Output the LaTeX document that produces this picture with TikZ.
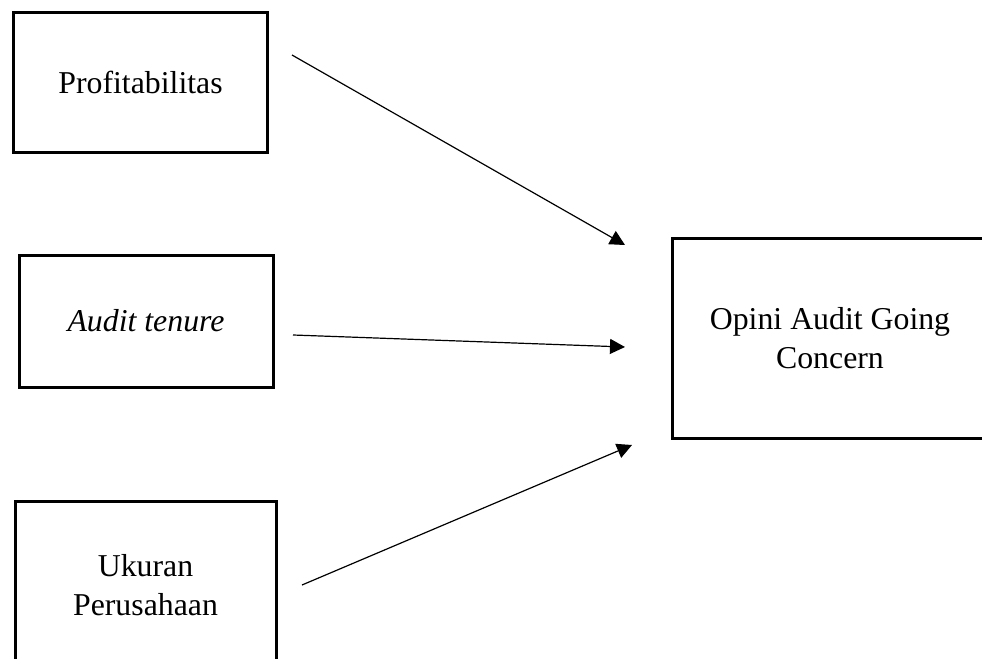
\documentclass[tikz,border=0pt]{standalone}
\usepackage{fontspec}
\setmainfont{Liberation Serif}
\usetikzlibrary{arrows.meta}
\begin{document}
\begin{tikzpicture}[x=0.5pt,y=-0.5pt,
var/.style={%
draw,
line width=1.5pt,
align=center,
inner sep=0pt,
font=\fontsize{15.9}{19.5}\selectfont,
},
link/.style={%
line width=0.6pt,
-{Triangle[length=7.5pt,width=7.5pt]},
}
]
\useasboundingbox(0,0)rectangle(982,659);

%variables
\node[var,minimum width=127pt,minimum height=70pt](prof)at(140.5,82.5){Profitabilitas};
\node[var,minimum width=127pt,minimum height=66pt](tenure)at(146,321){\textit{Audit tenure}};
\node[var,minimum width=130.5pt,minimum height=84pt](ukuran)at(145.5,585){Ukuran\\Perusahaan};
\node[var,minimum width=157.5pt,minimum height=100pt](opini)at(830,338.5){Opini Audit Going\\Concern};

%arrows
\coordinate(a1)at(292,55);
\coordinate(b1)at(625,245);
\coordinate(a2)at(293,335);
\coordinate(b2)at(625,347);
\coordinate(a3)at(302,585);
\coordinate(b3)at(632,445);
\draw[link](a1)--(b1);
\draw[link](a2)--(b2);
\draw[link](a3)--(b3);

\end{tikzpicture}
\end{document}
